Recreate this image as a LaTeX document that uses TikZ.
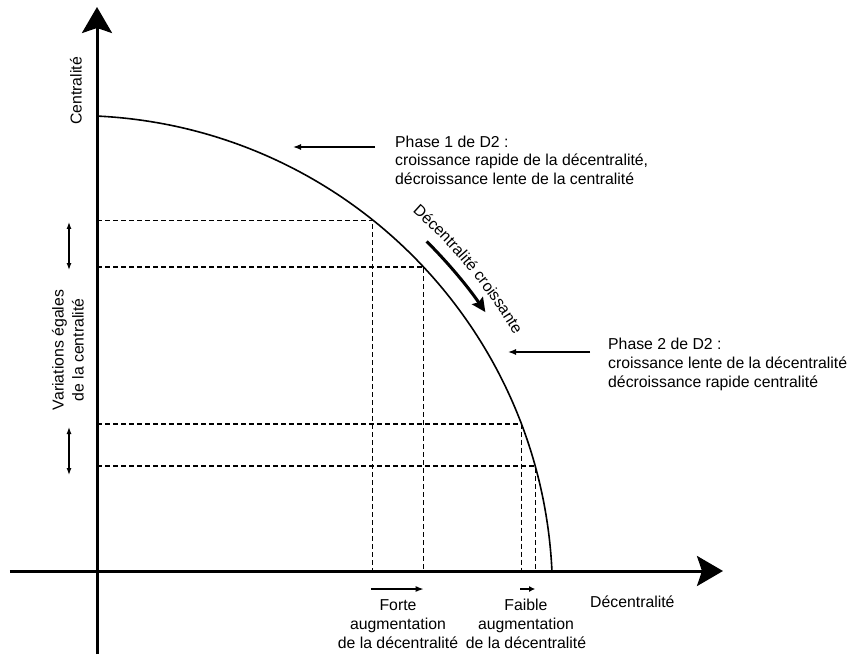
\documentclass[tikz,border=0pt]{standalone}
\usepackage{fontspec}
\setmainfont{Liberation Sans}
\usetikzlibrary{arrows.meta,calc,decorations.text}

\tikzset{
  axis/.style={line width=3pt, -{Stealth[length=26pt,width=30pt,inset=5pt]}},
  guide/.style={line width=1.2pt, dash pattern=on 5pt off 3pt},
  pointer/.style={line width=1.3pt, -{Latex[length=8pt,width=6pt]}},
  twoway/.style={line width=1.2pt, {Latex[length=7pt,width=5pt]}-{Latex[length=7pt,width=5pt]}},
  label/.style={font=\fontsize{15.8pt}{18.6pt}\selectfont, inner sep=0pt},
}

\begin{document}
\begin{tikzpicture}[x=1pt,y=1pt]
  \useasboundingbox (-97,-83) rectangle (756,571);

  % axes
  \coordinate (O) at (0,0);
  \coordinate (ybot) at (0,-83);
  \coordinate (ytop) at (0,564);
  \coordinate (xl) at (-87,0);
  \coordinate (xr) at (626,0);
  \draw[axis] (ybot) -- (ytop);
  \draw[axis] (xl) -- (xr);

  % frontier curve: circular arc centred just off the origin
  \coordinate (C) at (-22.5,-22.5);
  \coordinate (cstart) at ($(C)+(87.3:478)$);
  \draw[line width=1.6pt] (cstart) arc[start angle=87.3, end angle=2.7, radius=478];

  % projections of four points of the curve onto both axes
  \coordinate (p1) at ($(C)+(51.37:478)$);
  \coordinate (p2) at ($(C)+(43.08:478)$);
  \coordinate (p3) at ($(C)+(20.77:478)$);
  \coordinate (p4) at ($(C)+(15.47:478)$);
  \foreach \p in {p1,p2,p3,p4} {
    \draw[guide] (O |- \p) -- (\p) -- (\p |- O);
  }

  % equal steps on the centrality axis
  \coordinate (v1a) at (-28,349);
  \coordinate (v1b) at (-28,301);
  \coordinate (v2a) at (-28,144);
  \coordinate (v2b) at (-28,96);
  \draw[twoway] (v1a) -- (v1b);
  \draw[twoway] (v2a) -- (v2b);

  % resulting steps on the decentrality axis
  \coordinate (f1) at ($(p1 |- O)+(-2,-18)$);
  \coordinate (f2) at ($(p2 |- O)+(0,-18)$);
  \coordinate (g1) at ($(p3 |- O)+(-1,-18)$);
  \coordinate (g2) at ($(p4 |- O)+(0,-18)$);
  \draw[pointer] (f1) -- (f2);
  \draw[line width=1.3pt, -{Latex[length=6pt,width=6pt]}] (g1) -- (g2);

  % axis titles
  \node[label, rotate=90] (ctitle) at (-21,480) {Centralité};
  \node[label, anchor=base west] (dtitle) at (493,-36) {Décentralité};
  \node[label, rotate=90, align=center, font=\fontsize{15.8pt}{20pt}\selectfont] (vtitle) at (-29,221)
    {Variations égales\\de la centralité};

  % phase annotations (anchored on the baseline of their last line)
  \node[label, anchor=base west, align=left] (ph1) at (298,386.5)
    {Phase 1 de D2 :\\croissance rapide de la décentralité,\\décroissance lente de la centralité};
  \coordinate (ph1from) at (278,424);
  \coordinate (ph1to) at (196,424);
  \draw[pointer] (ph1from) -- (ph1to);

  \node[label, anchor=base west, align=left] (ph2) at (511,184)
    {Phase 2 de D2 :\\croissance lente de la décentralité\\décroissance rapide centralité};
  \coordinate (ph2from) at (493,219);
  \coordinate (ph2to) at (411,219);
  \draw[pointer] (ph2from) -- (ph2to);

  % labels under the decentrality axis
  \node[label, anchor=base, align=center, font=\fontsize{15.8pt}{19pt}\selectfont] (forte) at (301,-77)
    {Forte\\augmentation\\de la décentralité};
  \node[label, anchor=base, align=center, font=\fontsize{15.8pt}{19pt}\selectfont] (faible) at (429,-77)
    {Faible\\augmentation\\de la décentralité};

  % direction of travel along the curve
  \coordinate (mstart) at ($(C)+(45:498)$);
  \draw[line width=3pt, -{Stealth[length=14pt,width=13pt,inset=2pt]}]
    (mstart) arc[start angle=45, end angle=34.4, radius=498];
  \coordinate (tstart) at ($(C)+(56:510)$);
  \path[decorate, decoration={text along path, text align=center,
      text={|\fontsize{15.8pt}{18pt}\selectfont|Décentralité croissante}}]
    (tstart) arc[start angle=56, end angle=23, radius=510];
\end{tikzpicture}
\end{document}
